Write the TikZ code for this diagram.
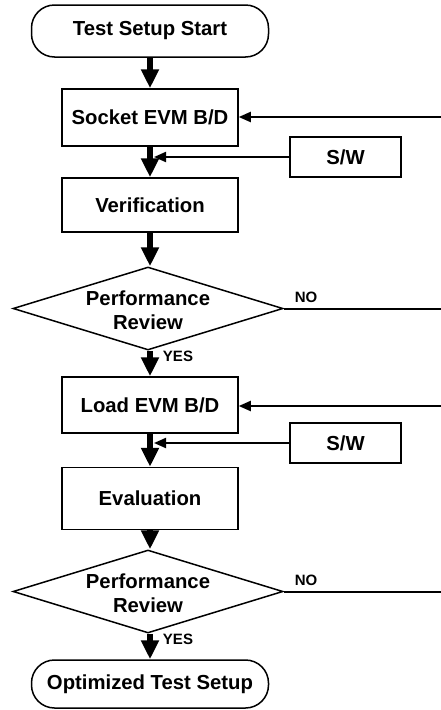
\documentclass[tikz,border=0pt]{standalone}
\usepackage{fontspec}
\setmainfont{Liberation Sans}
\usetikzlibrary{arrows.meta,shapes.geometric}
\begin{document}
\begin{tikzpicture}[x=1pt,y=-1pt,
  font=\fontsize{20.3}{24.5}\selectfont\bfseries,
  box/.style={draw,line width=1.5pt,minimum width=176pt,inner sep=0pt},
  term/.style={draw,line width=1.5pt,rounded corners=23pt,minimum width=237pt,inner sep=0pt},
  sw/.style={draw,line width=1.5pt,minimum width=111pt,minimum height=40pt,inner sep=0pt},
  dec/.style={draw,diamond,line width=1.5pt,minimum width=270pt,minimum height=83pt,inner sep=0pt},
  mainarrow/.style={line width=6pt,-{Triangle[width=17pt,length=19pt]}},
  sidearrow/.style={line width=2pt,-{Triangle[width=10pt,length=12pt]}},
  plainline/.style={line width=2pt},
  lbl/.style={font=\fontsize{15}{17}\selectfont\bfseries}
]
\useasboundingbox (0,0) rectangle (441,710);

% main column
\node[term, minimum height=52pt] (start) at (150,31) {Test Setup Start};
\node[box, minimum height=57pt] (socket) at (150,117.5) {Socket EVM B/D};
\node[box, minimum height=54pt] (verif) at (150,205) {Verification};
\node[dec] (d1) at (148,308.5) {};
\node[align=center] (d1t) at (148,310) {Performance\\Review};
\node[box, minimum height=56pt] (load) at (150,405) {Load EVM B/D};
\node[box, minimum height=62pt] (eval) at (150,498.5) {Evaluation};
\node[dec] (d2) at (148,591.5) {};
\node[align=center] (d2t) at (148,593) {Performance\\Review};
\node[term, minimum height=48pt] (opt) at (150,684) {Optimized Test Setup};

% S/W boxes
\node[sw] (sw1) at (345.5,157) {S/W};
\node[sw] (sw2) at (345.5,443) {S/W};

% labels
\node[lbl] (no1) at (306,297) {NO};
\node[lbl] (yes1) at (178,356) {YES};
\node[lbl] (no2) at (306,580) {NO};
\node[lbl] (yes2) at (178,639) {YES};

% right edge coordinates
\coordinate (r1) at (441,117);
\coordinate (r2) at (441,308.5);
\coordinate (r3) at (441,406);
\coordinate (r4) at (441,591.5);

% main arrows
\draw[mainarrow] (start.south) -- (socket.north);
\draw[mainarrow] (socket.south) -- (verif.north);
\draw[mainarrow] (verif.south) -- (d1.north -| verif.south);
\draw[mainarrow] (d1.south -| load.north) -- (load.north);
\draw[mainarrow] (load.south) -- (eval.north);
\draw[mainarrow] (eval.south) -- (d2.north -| eval.south);
\draw[mainarrow] (d2.south -| opt.north) -- (opt.north);

% side arrows
\draw[sidearrow] (r1) -- (r1 -| socket.east);
\draw[sidearrow, shorten >=4pt] (sw1.west) -- (sw1.west -| socket.south);
\draw[plainline] (d1.east) -- (r2);
\draw[sidearrow] (r3) -- (r3 -| load.east);
\draw[sidearrow, shorten >=4pt] (sw2.west) -- (sw2.west -| load.south);
\draw[plainline] (d2.east) -- (r4);
\end{tikzpicture}
\end{document}
